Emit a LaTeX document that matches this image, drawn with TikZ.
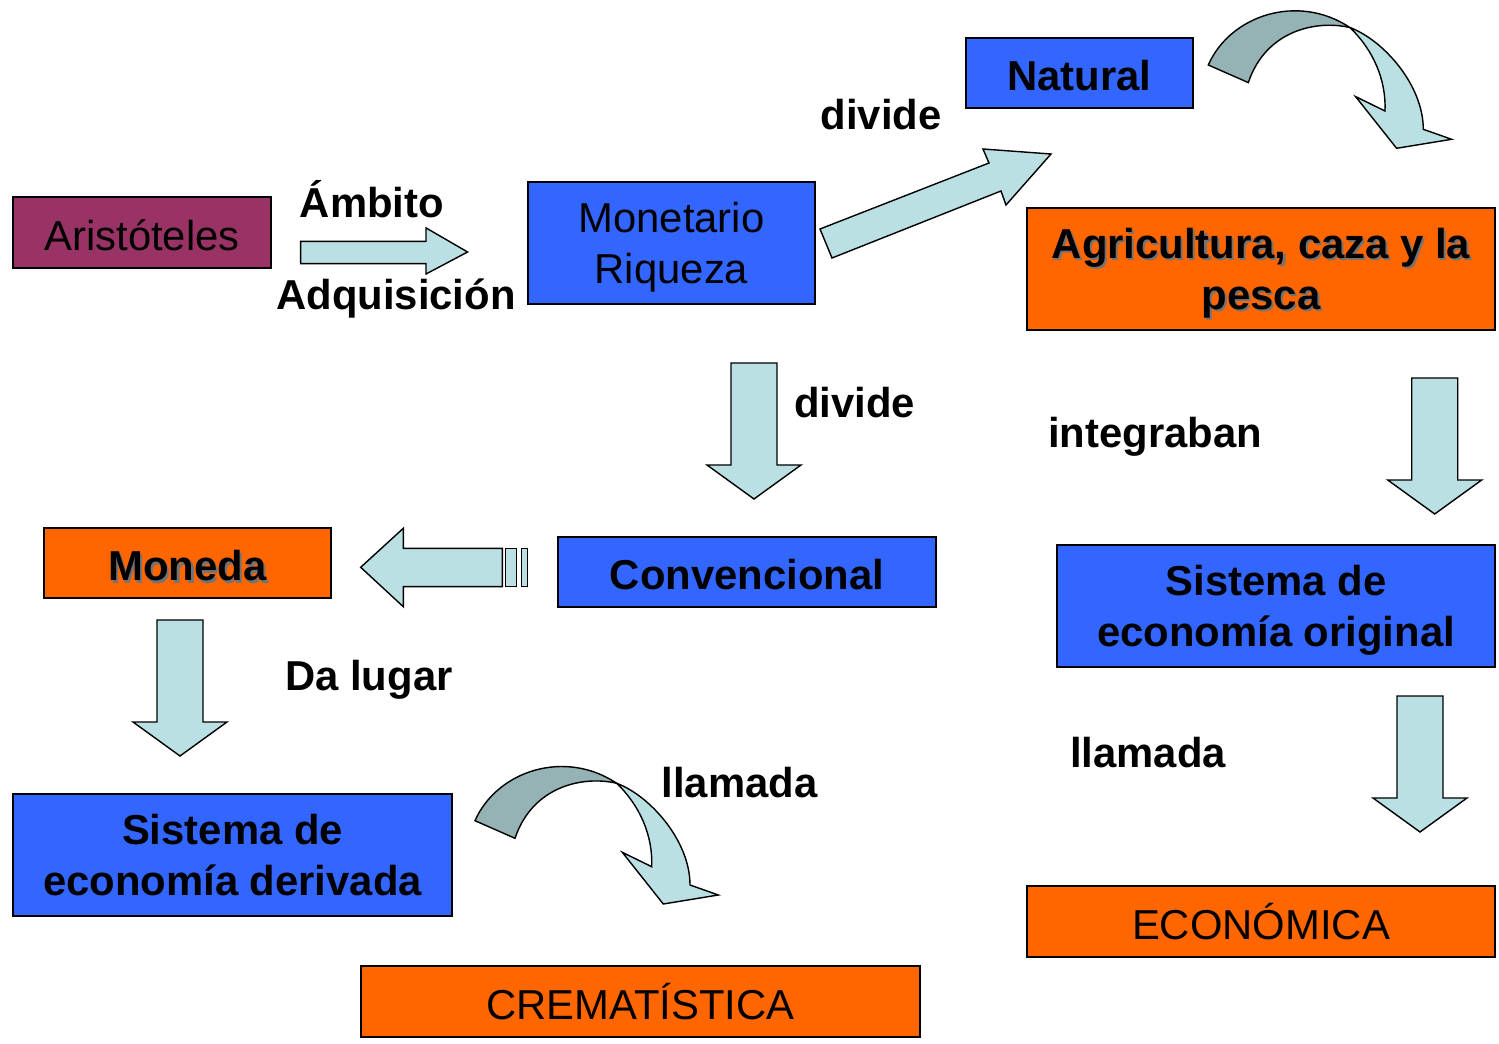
\documentclass[tikz,border=0pt]{standalone}
\usepackage{fontspec}
\setmainfont{Liberation Sans}
\usetikzlibrary{positioning}

\definecolor{arispurple}{RGB}{153,51,102}
\definecolor{boxblue}{RGB}{51,102,255}
\definecolor{boxorange}{RGB}{255,102,0}
\definecolor{arrowblue}{RGB}{187,224,227}
\definecolor{arrowdark}{RGB}{149,179,181}

% text with a small drop shadow
\newcommand{\shtext}[1]{\makebox[0pt][l]{\hspace{1.2pt}\raisebox{-1.2pt}{\color{black!55}#1}}#1}

\begin{document}
\begin{tikzpicture}[
    x=0.02cm, y=-0.02cm,
    every node/.style={font=\fontsize{23.8}{28.9}\selectfont, align=center},
    bold text/.style={font=\fontsize{23.8}{28.9}\selectfont\bfseries},
    box/.style={rectangle, draw, line width=0.9pt, inner sep=0pt},
    one line/.style={text height=20.4pt, text depth=0pt},
    two lines/.style={text depth=0pt},
    blue box/.style={box, fill=boxblue},
    orange box/.style={box, fill=boxorange},
    word/.style={bold text, anchor=base},
    blockarrow/.style={draw, line width=0.8pt, fill=arrowblue, line join=miter},
    downarrow/.pic={\draw[blockarrow] (-23,0) -- (23,0) -- (23,102) -- (47,102) -- (0,136) -- (-47,102) -- (-23,102) -- cycle;},
    curvedarrow/.pic={
      \draw[blockarrow] (141.7,-37.4) .. controls (175,-25) and (215,20) .. (215,64.3) -- (243.3,74.3) -- (188.3,83.3) -- (147.3,31.6) -- (176.7,46) .. controls (178,15) and (165,-15) .. (141.7,-37.4) -- cycle;
      \draw[blockarrow, fill=arrowdark] (0,0) .. controls (22,-50) and (90,-72) .. (141.7,-37.4) .. controls (110,-45) and (58,-36) .. (40,17.6) -- cycle;
    }
]
\useasboundingbox (0,0) rectangle (1499,1044);

% boxes
\node[box, one line, fill=arispurple, minimum width=5.16cm, minimum height=1.42cm] (aris) at (142,232.5) {Aristóteles};
\node[blue box, two lines, minimum width=5.74cm, minimum height=2.44cm] (monet) at (671.5,243) {Monetario\\Riqueza};
\node[blue box, one line, bold text, minimum width=4.54cm, minimum height=1.40cm] (natural) at (1079.5,73) {Natural};
\node[orange box, two lines, bold text, minimum width=9.36cm, minimum height=2.44cm] (agri) at (1261,269) {\shtext{Agricultura, caza y la}\\\shtext{pesca}};
\node[blue box, one line, bold text, minimum width=7.56cm, minimum height=1.40cm] (conv) at (747,572) {Convencional};
\node[orange box, one line, bold text, minimum width=5.74cm, minimum height=1.40cm] (moneda) at (187.5,563) {\shtext{Moneda}};
\node[blue box, two lines, bold text, minimum width=8.76cm, minimum height=2.44cm] (sisorig) at (1276,606) {Sistema de\\economía original};
\node[blue box, two lines, bold text, minimum width=8.78cm, minimum height=2.44cm] (sisder) at (232.5,855) {Sistema de\\economía derivada};
\node[orange box, one line, minimum width=9.36cm, minimum height=1.42cm] (econ) at (1261,921.5) {ECONÓMICA};
\node[orange box, one line, minimum width=11.18cm, minimum height=1.42cm] (crem) at (640.5,1001.5) {CREMATÍSTICA};

% block arrows
\draw[blockarrow] (300.6,241.3) -- (426,241.3) -- (426,227.9) -- (467.6,252) -- (426,274) -- (426,263.7) -- (300.6,263.7) -- cycle;
\draw[blockarrow] (820,229) -- (989,163) -- (983,149) -- (1051,154) -- (1006,205) -- (1001,191) -- (832,258) -- cycle;
\draw[blockarrow] (502.3,548.3) -- (403.3,548.3) -- (403.3,528.3) -- (360.7,567.3) -- (403.3,606.7) -- (403.3,586.7) -- (502.3,586.7) -- cycle;
\draw[blockarrow] (505.7,548.3) rectangle (516.7,586.7);
\draw[blockarrow] (521.7,548.3) rectangle (527.7,586.7);
\pic at (754,363) {downarrow};
\pic at (1434.7,378) {downarrow};
\pic at (1420,696) {downarrow};
\pic at (180,620) {downarrow};
\pic at (1208.3,65) {curvedarrow};
\pic at (475,820.7) {curvedarrow};

% labels
\node[word] (ambito) at (372,218) {Ámbito};
\node[word] (adquis) at (396,310) {Adquisición};
\node[word] (divide1) at (881,130) {divide};
\node[word] (divide2) at (854.5,418) {divide};
\node[word] (integ) at (1155,447) {integraban};
\node[word] (dalugar) at (369,690) {Da lugar};
\node[word] (llamada1) at (739.5,797) {llamada};
\node[word] (llamada2) at (1148,767) {llamada};

\end{tikzpicture}
\end{document}
